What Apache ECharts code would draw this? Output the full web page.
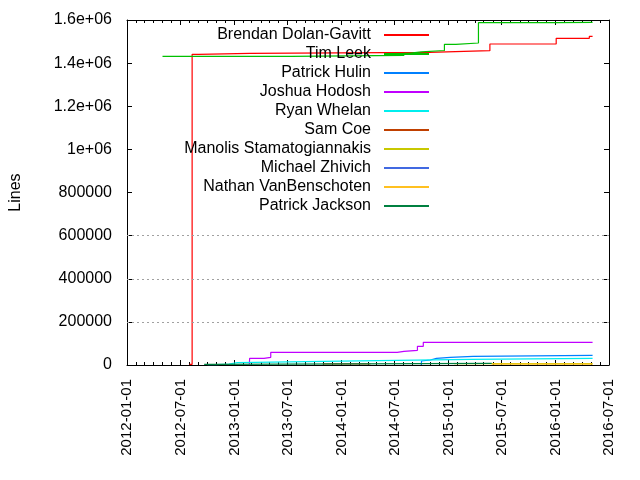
<!DOCTYPE html>
<html><head><meta charset="utf-8">
<script src="https://cdn.jsdelivr.net/npm/echarts@6/dist/echarts.min.js"></script>
<style>html,body{margin:0;padding:0;background:#fff}#c{width:640px;height:480px}</style>
</head><body><div id="c"></div>
<script>
// ---- data ----
const xTickLabels = ['2012-01-01','2012-07-01','2013-01-01','2013-07-01','2014-01-01','2014-07-01','2015-01-01','2015-07-01','2016-01-01','2016-07-01'];
const yTicks = [0,200000,400000,600000,800000,1000000,1200000,1400000,1600000];
const yTickLabels = ['0','200000','400000','600000','800000','1e+06','1.2e+06','1.4e+06','1.6e+06'];
const gridValues = [200000,400000,600000];

const seriesNames = ['Brendan Dolan-Gavitt','Tim Leek','Patrick Hulin','Joshua Hodosh','Ryan Whelan','Sam Coe','Manolis Stamatogiannakis','Michael Zhivich','Nathan VanBenschoten','Patrick Jackson'];
const seriesColors = ['#ff0000','#00c000','#0080ff','#c000ff','#00eeee','#c04000','#c8c800','#4169e1','#ffc020','#008040'];

const brendan = [['2012-08-01',3000],['2012-08-10',1441000],['2012-09-01',1445500],['2013-02-23',1450000],['2014-10-28',1457700],['2015-05-22',1488700],['2016-01-03',1515000],['2016-04-25',1524400],['2016-05-06',1524400]];
const timLeek = [['2012-05-01',1431700],['2013-07-14',1436300],['2014-08-02',1445600],['2014-08-18',1452000],['2014-09-30',1458500],['2014-12-18',1487000],['2015-01-26',1493300],['2015-04-13',1587500],['2016-01-03',1589300],['2016-05-06',1591000]];
const patrickHulin = [['2014-09-30',0],['2014-10-01',18600],['2014-10-07',23200],['2014-10-31',31000],['2014-11-21',35700],['2015-01-07',40300],['2015-03-26',45000],['2016-05-06',45000]];
const joshuaHodosh = [['2013-02-21',2000],['2013-02-22',31000],['2013-04-12',35700],['2013-05-05',58900],['2014-07-10',63500],['2014-08-02',68200],['2014-09-17',86700],['2014-10-07',105300],['2016-05-06',105300]];
const ryanWhelan = [['2012-10-01',2000],['2012-11-02',4600],['2012-12-14',11000],['2013-01-11',17000],['2013-10-29',21600],['2014-07-07',26300],['2015-03-18',31000],['2016-05-06',31000]];
const samCoe = [['2013-10-29',5000],['2014-04-10',5000]];
const manolis = [['2015-01-20',6000],['2016-05-06',6000]];
const michaelZhivich = [['2014-09-30',1000],['2014-10-01',1000]];
const nathan = [['2015-05-28',4000],['2016-05-06',4000]];
const patrickJackson = [['2012-09-20',3000],['2012-11-02',8000],['2015-05-28',8000]];
const seriesData = [brendan,timLeek,patrickHulin,joshuaHodosh,ryanWhelan,samCoe,manolis,michaelZhivich,nathan,patrickJackson];

// ---- chart ----
const ts = d => Date.parse(d);
const FONT = "'Liberation Sans', Arial, sans-serif";
const xMin = ts(xTickLabels[0]), xMax = ts(xTickLabels[xTickLabels.length-1]);
const majorX = xTickLabels.map(ts);
const minorX = [];
for (let y = 2012; y <= 2016; y++) for (let m = 1; m <= 12; m++) {
  const t = Date.UTC(y, m-1, 1);
  if (t > xMin && t < xMax && majorX.indexOf(t) < 0) minorX.push(t);
}
const labelFor = v => { const i = majorX.indexOf(v); return i >= 0 ? xTickLabels[i] : ''; };
const black = {color:'#000', width:1};

function xAx(pos, ticks, len, showLine, showLabel) {
  return {
    type:'value', position:pos, min:xMin, max:xMax, splitLine:{show:false},
    axisLine:{show:showLine, lineStyle:black, onZero:false},
    axisTick:{show:true, inside:true, length:len, customValues:ticks, lineStyle:black},
    axisLabel: showLabel ? {customValues:majorX, rotate:90, formatter:labelFor, fontSize:15, color:'#000', fontFamily:FONT, margin:14, padding:[8,0,0,0]} : {show:false}
  };
}

const chart = echarts.init(document.getElementById('c'), null, {renderer:'canvas'});
chart.setOption({
  animation:false,
  backgroundColor:'#fff',
  grid:{left:124, right:31, top:20, bottom:115},
  legend:{
    data:seriesNames, orient:'vertical', align:'right', right:211, top:27, padding:0,
    itemWidth:45, itemHeight:14, itemGap:3,
    icon:'path://M0,0L45,0L45,2L0,2Z', symbolKeepAspect:true,
    textStyle:{fontSize:16, color:'#000', fontFamily:FONT, padding:[0,8,0,0]}
  },
  xAxis:[
    xAx('bottom', majorX, 5, true, true),
    xAx('bottom', minorX, 3, false, false),
    xAx('top', majorX, 5, true, false),
    xAx('top', minorX, 3, false, false)
  ],
  yAxis:[
    {type:'value', position:'left', min:0, max:1600000, interval:200000,
     name:'Lines', nameLocation:'middle', nameGap:103,
     nameTextStyle:{fontSize:16, color:'#000', fontFamily:FONT},
     splitLine:{show:false}, axisLine:{show:true, lineStyle:black},
     axisTick:{inside:true, length:5, lineStyle:black},
     axisLabel:{formatter:v => { const i = yTicks.indexOf(v); return i >= 0 ? yTickLabels[i] : ''; }, fontSize:16, color:'#000', fontFamily:FONT, margin:15}},
    {type:'value', position:'right', min:0, max:1600000, interval:200000,
     splitLine:{show:false}, axisLine:{show:true, lineStyle:black},
     axisTick:{inside:true, length:5, lineStyle:black}, axisLabel:{show:false}}
  ],
  series: seriesNames.map((name, i) => {
    const s = {
      name, type:'line', step:'end', symbol:'none', showSymbol:false, color:seriesColors[i],
      lineStyle:{width:1.2, color:seriesColors[i]},
      data: seriesData[i].map(p => [ts(p[0]), p[1]]),
      z: 2 + i * 0.01
    };
    if (i === 0) s.markLine = {
      silent:true, symbol:['none','none'], label:{show:false},
      lineStyle:{color:'#a0a0a0', type:[2,3], width:1},
      data: gridValues.map(v => ({yAxis:v}))
    };
    return s;
  })
});
</script></body></html>
